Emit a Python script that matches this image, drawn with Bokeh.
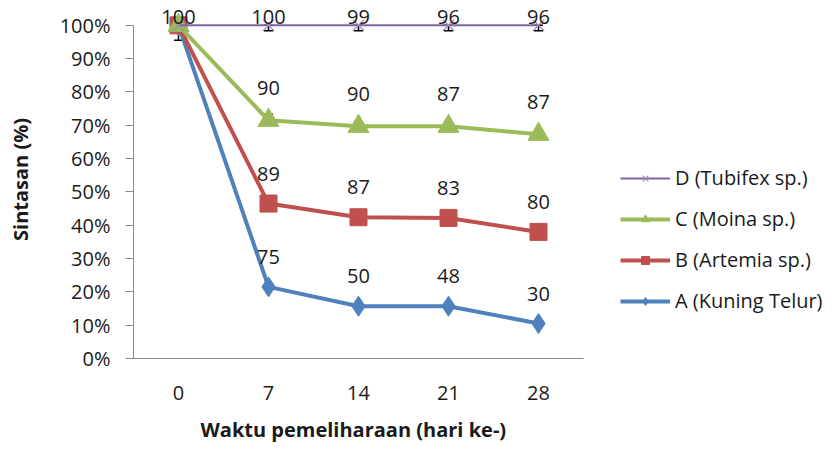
from bokeh.plotting import figure
from bokeh.models import (Range1d, FixedTicker, NumeralTickFormatter, Title,
                          Legend, LegendItem, ColumnDataSource, Whisker, TeeHead)
from bokeh.core.properties import value
from bokeh.embed import file_html
from bokeh.resources import INLINE

days = ["0", "7", "14", "21", "28"]
pos = list(range(len(days)))  # equally spaced category positions

a_vals = [1.00, 0.215, 0.157, 0.157, 0.105]
b_vals = [1.00, 0.465, 0.424, 0.422, 0.380]
c_vals = [1.00, 0.715, 0.697, 0.697, 0.673]
d_vals = [1.00, 1.00, 1.00, 1.00, 1.00]

a_labels = ["", "75", "50", "48", "30"]
b_labels = ["", "89", "87", "83", "80"]
c_labels = ["", "90", "90", "87", "87"]
d_labels = ["100", "100", "99", "96", "96"]

# small error bars (lower, upper deviation)
a_err_lo = [0.045, 0.005, 0.0, 0.0, 0.0]
a_err_hi = [0.0, 0.0, 0.0, 0.0, 0.0]
c_err_lo = [0.0, 0.0, 0.0, 0.0, 0.0]
c_err_hi = [0.0, 0.018, 0.012, 0.012, 0.012]
d_err_lo = [0.0, 0.016, 0.016, 0.016, 0.016]
d_err_hi = [0.0, 0.0, 0.0, 0.0, 0.0]

names = ["A (Kuning Telur)", "B (Artemia sp.)", "C (Moina sp.)", "D (Tubifex sp.)"]
colors = ["#4F81BD", "#C0504D", "#9BBB59", "#8064A2"]

FONT = "Open Sans"
TXT = "#1a1a1a"

# frame spans from the y axis to the right edge; category axis occupies 5 slots
p = figure(x_range=Range1d(-0.5, -0.5 + 699 / 90),
           y_range=Range1d(0, 1.0746),
           width=832, height=453,
           min_border_left=133, min_border_right=0,
           min_border_top=0, min_border_bottom=93,
           output_backend="svg", toolbar_location=None)
p.outline_line_color = None
p.grid.grid_line_color = None
p.background_fill_color = "white"
p.border_fill_color = "white"

# axes
p.yaxis.ticker = FixedTicker(ticks=[i / 10 for i in range(11)])
p.yaxis.formatter = NumeralTickFormatter(format="0%")
p.yaxis.bounds = (0, 1)
p.yaxis.major_tick_out = 8
p.yaxis.major_tick_in = 0
p.yaxis.minor_tick_line_color = None
p.yaxis.major_label_standoff = 15
p.yaxis.axis_line_color = "#8c8c8c"
p.yaxis.major_tick_line_color = "#8c8c8c"
p.yaxis.axis_label = "Sintasan (%)"
p.yaxis.axis_label_standoff = 23

p.xaxis.ticker = FixedTicker(ticks=pos)
p.xaxis.major_label_overrides = {i: d for i, d in zip(pos, days)}
p.xaxis.bounds = (-0.5, len(days) - 0.5)
p.xaxis.major_tick_line_color = None
p.xaxis.major_tick_out = 0
p.xaxis.major_tick_in = 0
p.xaxis.minor_tick_line_color = None
p.xaxis.axis_line_color = "#8c8c8c"
p.xaxis.major_label_standoff = 27

for ax in (p.xaxis[0], p.yaxis[0]):
    ax.major_label_text_font = FONT
    ax.major_label_text_font_size = "20px"
    ax.major_label_text_color = TXT
    ax.axis_label_text_font = FONT
    ax.axis_label_text_font_size = "20px"
    ax.axis_label_text_font_style = "bold"
    ax.axis_label_text_color = TXT

xtitle = Title(text="Waktu pemeliharaan (hari ke-)", align="left", offset=67,
               standoff=22, text_font=FONT, text_font_size="20px",
               text_font_style="bold", text_color=TXT, text_line_height=1.0)
p.add_layout(xtitle, "below")

vals = [a_vals, b_vals, c_vals, d_vals]
labels = [a_labels, b_labels, c_labels, d_labels]
lo = [a_err_lo, None, c_err_lo, d_err_lo]
hi = [a_err_hi, None, c_err_hi, d_err_hi]
markers = ["diamond", "square", "triangle", "x"]
msizes = [20, 17, 21, 16]
lwidths = [4, 4, 4, 2]
label_off = [-30, -30, -32, -8]

renderers = {}
for i in [0, 1, 2, 3]:
    src = ColumnDataSource(dict(x=pos, y=vals[i], t=labels[i]))
    lr = p.line("x", "y", source=src, line_color=colors[i], line_width=lwidths[i])
    if markers[i] == "x":
        mr = p.scatter("x", "y", source=src, marker="x", size=msizes[i],
                       line_color="#9F8CC0", line_width=1.2)
    else:
        mr = p.scatter("x", "y", source=src, marker=markers[i], size=msizes[i],
                       fill_color=colors[i], line_color=colors[i])
    renderers[i] = (lr, mr, src)

for i in [0, 1, 2, 3]:
    if lo[i] is None:
        continue
    lower = [v - e for v, e in zip(vals[i], lo[i])]
    upper = [v + e for v, e in zip(vals[i], hi[i])]
    wsrc = ColumnDataSource(dict(x=pos, lower=lower, upper=upper))
    w = Whisker(base="x", lower="lower", upper="upper", source=wsrc,
                line_color="black", line_width=1.5,
                upper_head=TeeHead(size=9, line_color="black", line_width=1.5),
                lower_head=TeeHead(size=9, line_color="black", line_width=1.5))
    p.add_layout(w)

for i in [0, 1, 2, 3]:
    src = renderers[i][2]
    p.text("x", "y", text="t", source=src, y_offset=label_off[i],
           text_align="center", text_baseline="middle",
           text_font=value(FONT), text_font_size="20px", text_color=TXT)

items = [LegendItem(label=names[i], renderers=[renderers[i][0], renderers[i][1]])
         for i in [3, 2, 1, 0]]
legend = Legend(items=items, location=(487, 44), orientation="vertical",
                glyph_width=50, glyph_height=20, label_height=20,
                spacing=14, padding=0, margin=0, label_standoff=5,
                border_line_alpha=0, background_fill_alpha=0,
                label_text_font=FONT, label_text_font_size="20px",
                label_text_color=TXT)
p.add_layout(legend, "center")

open("out.html", "w").write(file_html(p, INLINE))
